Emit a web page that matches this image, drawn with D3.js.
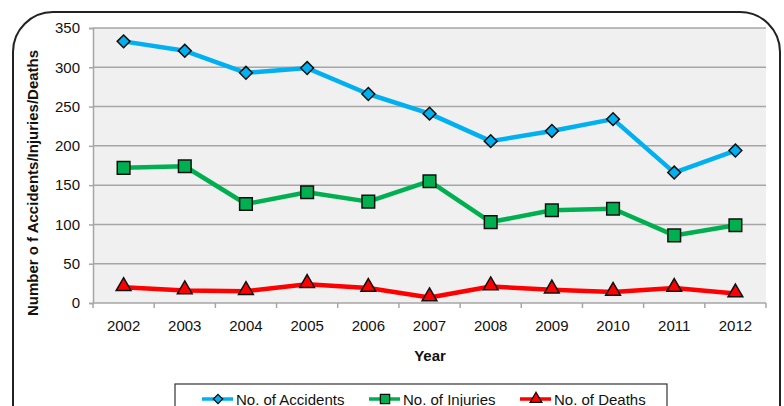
<!DOCTYPE html>
<html>
<head>
<meta charset="utf-8">
<script src="https://cdn.jsdelivr.net/npm/d3@7"></script>
<style>
html,body{margin:0;padding:0;background:#fff;}
svg{display:block;font-family:"Liberation Sans",Arial,sans-serif;}
</style>
</head>
<body>
<svg id="chart" width="784" height="406"></svg>
<script>
const years = ["2002","2003","2004","2005","2006","2007","2008","2009","2010","2011","2012"];
const accidents = [333,321,293,299,266,241,206,219,234,166,194];
const injuries = [172,174,126,141,129,155,103,118,120,86,99];
const deaths = [20,16,15,24,19,7,21,17,14,19,12];
const yTicks = [0,50,100,150,200,250,300,350];
const seriesNames = ["No. of Accidents","No. of Injuries","No. of Deaths"];

const svg = d3.select("#chart");
const m = {left:93, right:766, top:28, bottom:303};
const FONT = "Liberation Sans, Arial, sans-serif";

// frame
svg.append("rect").attr("x",13).attr("y",12).attr("width",767).attr("height",440)
  .attr("rx",40).attr("ry",40).attr("fill","#fff").attr("stroke","#222").attr("stroke-width",2);

const x = d3.scaleBand().domain(years).range([m.left,m.right]).padding(0);
const y = d3.scaleLinear().domain([0,350]).range([m.bottom,m.top]);

svg.append("rect").attr("x",m.left).attr("y",m.top).attr("width",m.right-m.left).attr("height",m.bottom-m.top).attr("fill","#f0f0f0");

// gridlines
svg.append("g").selectAll("line").data(yTicks.filter(d=>d>0)).join("line")
  .attr("x1",m.left).attr("x2",m.right).attr("y1",d=>y(d)).attr("y2",d=>y(d))
  .attr("stroke","#a6a6a6").attr("stroke-width",1.5);

// y axis
const yAxis = svg.append("g").attr("transform",`translate(${m.left},0)`)
  .call(d3.axisLeft(y).tickValues(yTicks).tickSize(4).tickPadding(9));
yAxis.select(".domain").attr("stroke","#a6a6a6").attr("stroke-width",1.5);
yAxis.selectAll(".tick line").attr("stroke","#a6a6a6").attr("stroke-width",1.5);
yAxis.selectAll(".tick text").attr("font-size",15).attr("fill","#111").attr("font-family",FONT);

// x axis
const xAxis = svg.append("g").attr("transform",`translate(0,${m.bottom})`)
  .call(d3.axisBottom(x).tickSize(0).tickPadding(17));
xAxis.select(".domain").remove();
svg.append("line").attr("x1",m.left).attr("x2",m.right).attr("y1",m.bottom).attr("y2",m.bottom)
  .attr("stroke","#a6a6a6").attr("stroke-width",1.5);
svg.append("g").selectAll("line").data(years.concat(["end"])).join("line")
  .attr("x1",(d,i)=>m.left+i*x.bandwidth()).attr("x2",(d,i)=>m.left+i*x.bandwidth())
  .attr("y1",m.bottom).attr("y2",m.bottom+5).attr("stroke","#a6a6a6").attr("stroke-width",1.5);
xAxis.selectAll(".tick text").attr("font-size",15).attr("fill","#111").attr("font-family",FONT);

// axis titles
svg.append("text").attr("x",430).attr("y",361).attr("text-anchor","middle")
  .attr("font-weight","bold").attr("font-size",15).attr("fill","#111").text("Year");
svg.append("text").attr("transform","translate(38,183) rotate(-90)").attr("text-anchor","middle")
  .attr("font-weight","bold").attr("font-size",15).attr("fill","#111").text("Number o f Accidents/Injuries/Deaths");

const cx = d => x(d) + x.bandwidth()/2;
const series = [
  {name:seriesNames[0], values:accidents, color:"#00b0f0", sym:d3.symbolDiamond2, size:105, lsize:55},
  {name:seriesNames[1], values:injuries, color:"#00b050", sym:d3.symbolSquare, size:160, lsize:85},
  {name:seriesNames[2], values:deaths, color:"#ff0000", sym:d3.symbolTriangle, size:95, lsize:60}
];
const line = d3.line().x(d=>cx(d.year)).y(d=>y(d.v));
series.forEach(s=>{
  const pts = years.map((yr,i)=>({year:yr, v:s.values[i]}));
  svg.append("path").datum(pts).attr("d",line).attr("fill","none")
    .attr("stroke",s.color).attr("stroke-width",4.5).attr("stroke-linejoin","round");
});
series.forEach(s=>{
  const pts = years.map((yr,i)=>({year:yr, v:s.values[i]}));
  svg.append("g").selectAll("path").data(pts).join("path")
    .attr("d",d3.symbol().type(s.sym).size(s.size))
    .attr("transform",d=>`translate(${cx(d.year)},${y(d.v) + (s.sym===d3.symbolTriangle?-1:0)})`)
    .attr("fill",s.color).attr("stroke","#111").attr("stroke-width",1.5);
});

// legend
svg.append("rect").attr("x",175).attr("y",384).attr("width",492).attr("height",40)
  .attr("fill","#fff").attr("stroke","#333").attr("stroke-width",1.2);
const legX = [202,369,520];
series.forEach((s,i)=>{
  const g = svg.append("g").attr("transform",`translate(${legX[i]},399)`);
  g.append("line").attr("x1",0).attr("x2",31).attr("y1",0).attr("y2",0).attr("stroke",s.color).attr("stroke-width",3.5);
  g.append("path").attr("d",d3.symbol().type(s.sym).size(s.lsize)).attr("transform","translate(16,0)")
    .attr("fill",s.color).attr("stroke","#111").attr("stroke-width",1.3);
  g.append("text").attr("x",34).attr("y",5.5).attr("font-size",15).attr("fill","#111").attr("font-family",FONT).text(s.name);
});
</script>
</body>
</html>
